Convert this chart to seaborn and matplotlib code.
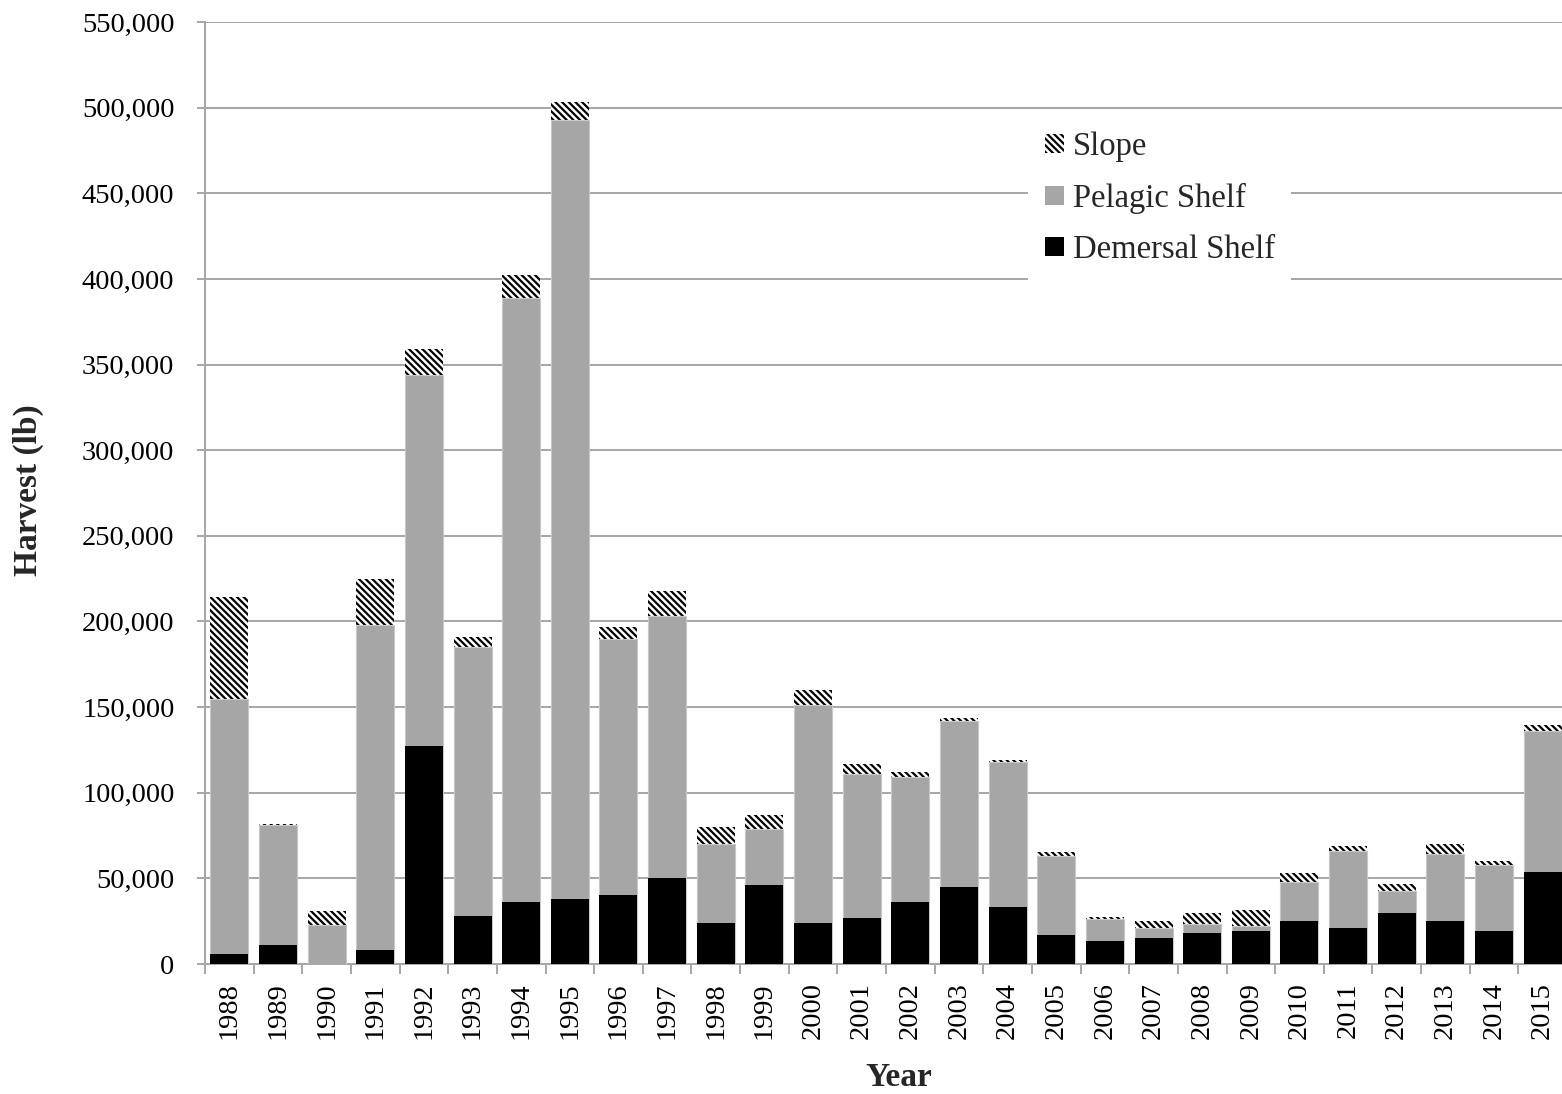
import matplotlib
matplotlib.use("Agg")
import matplotlib.pyplot as plt
from matplotlib.patches import Patch
from matplotlib.ticker import FuncFormatter, FixedLocator
import numpy as np
import seaborn as sns

years = [str(y) for y in range(1988, 2016)]
demersal = [6000, 11000, 0, 8000, 127000, 28000, 36000, 38000, 40000, 50000,
            24000, 46000, 24000, 27000, 36000, 45000, 33000, 17000, 13500, 15000,
            18000, 19000, 25000, 21000, 30000, 25000, 19000, 54000]
pelagic = [149000, 70000, 23000, 190000, 217000, 157000, 353000, 455000, 150000, 153000,
           46000, 33000, 127000, 84000, 73000, 97000, 85000, 46000, 12500, 6000,
           5500, 3000, 23000, 45000, 12500, 39000, 39000, 82000]
slope = [59000, 1000, 8000, 27000, 15000, 6000, 13000, 10000, 7000, 15000,
         10000, 8000, 9000, 6000, 3000, 1500, 1000, 2300, 1500, 4000,
         6500, 9500, 5000, 3000, 4000, 6000, 2000, 3500]

d = np.array(demersal, dtype=float)
p = np.array(pelagic, dtype=float)
s = np.array(slope, dtype=float)
total = d + p + s
dp = d + p

sns.set_theme(style="white")
plt.rcParams['font.family'] = ['Liberation Serif', 'DejaVu Serif']
plt.rcParams['hatch.linewidth'] = 1.6
plt.rcParams['hatch.color'] = 'black'

fig = plt.figure(figsize=(15.62, 10.94), dpi=100)
ax = fig.add_axes([205 / 1562, 1 - 964 / 1094, 1362 / 1562, 942 / 1094])

grey = '#A6A6A6'
width = 0.78
sns.barplot(x=years, y=total, color='white', edgecolor='black', linewidth=0,
            hatch='\\\\\\\\\\', width=width, ax=ax, zorder=3, saturation=1)
sns.barplot(x=years, y=dp, color=grey, edgecolor='#C8C8C8', linewidth=0.8,
            width=width, ax=ax, zorder=4, saturation=1)
sns.barplot(x=years, y=d, color='black', edgecolor='black', linewidth=0,
            width=width, ax=ax, zorder=5, saturation=1)

ax.set_ylim(0, 550000)
ax.set_xlim(-0.5, len(years) - 0.5)
ax.yaxis.set_major_locator(FixedLocator(np.arange(0, 550001, 50000)))
ax.yaxis.set_major_formatter(FuncFormatter(lambda v, _: f"{int(v):,}"))
ax.yaxis.grid(True, color=grey, linewidth=1.4, zorder=0)
ax.set_axisbelow(True)

for sp in ['top', 'right']:
    ax.spines[sp].set_visible(False)
for sp in ['left', 'bottom']:
    ax.spines[sp].set_color(grey)
    ax.spines[sp].set_linewidth(1.4)

ax.tick_params(axis='y', which='major', left=True, length=6, width=1.4,
               color=grey, labelsize=20.5, pad=16, labelcolor='black')
ax.set_xticks(range(len(years)))
ax.set_xticklabels(years, rotation=90)
ax.set_xticks(np.arange(-0.5, len(years), 1.0), minor=True)
ax.tick_params(axis='x', which='major', length=0, labelsize=20.5, pad=13, labelcolor='black')
ax.tick_params(axis='x', which='minor', bottom=True, length=7, width=1.4, color=grey)

ax.set_xlabel('Year', fontsize=24, fontweight='bold')
ax.set_ylabel('Harvest (lb)', fontsize=24, fontweight='bold')
ax.xaxis.set_label_coords(0.509, -0.104)
ax.yaxis.set_label_coords(-0.118, 0.503)

handles = [Patch(facecolor='white', edgecolor='black', linewidth=0, hatch='\\\\\\\\\\', label='Slope'),
           Patch(facecolor=grey, edgecolor='none', label='Pelagic Shelf'),
           Patch(facecolor='black', edgecolor='none', label='Demersal Shelf')]
leg = ax.legend(handles=handles, loc='upper left', bbox_to_anchor=(0.5925, 0.918),
                fontsize=23.5, frameon=True, framealpha=1, edgecolor='none',
                facecolor='white', fancybox=False, handlelength=0.58, handleheight=0.52,
                handletextpad=0.28, labelspacing=0.63, borderpad=0.5)
leg.set_zorder(10)

fig.savefig('out.png', dpi=100)
